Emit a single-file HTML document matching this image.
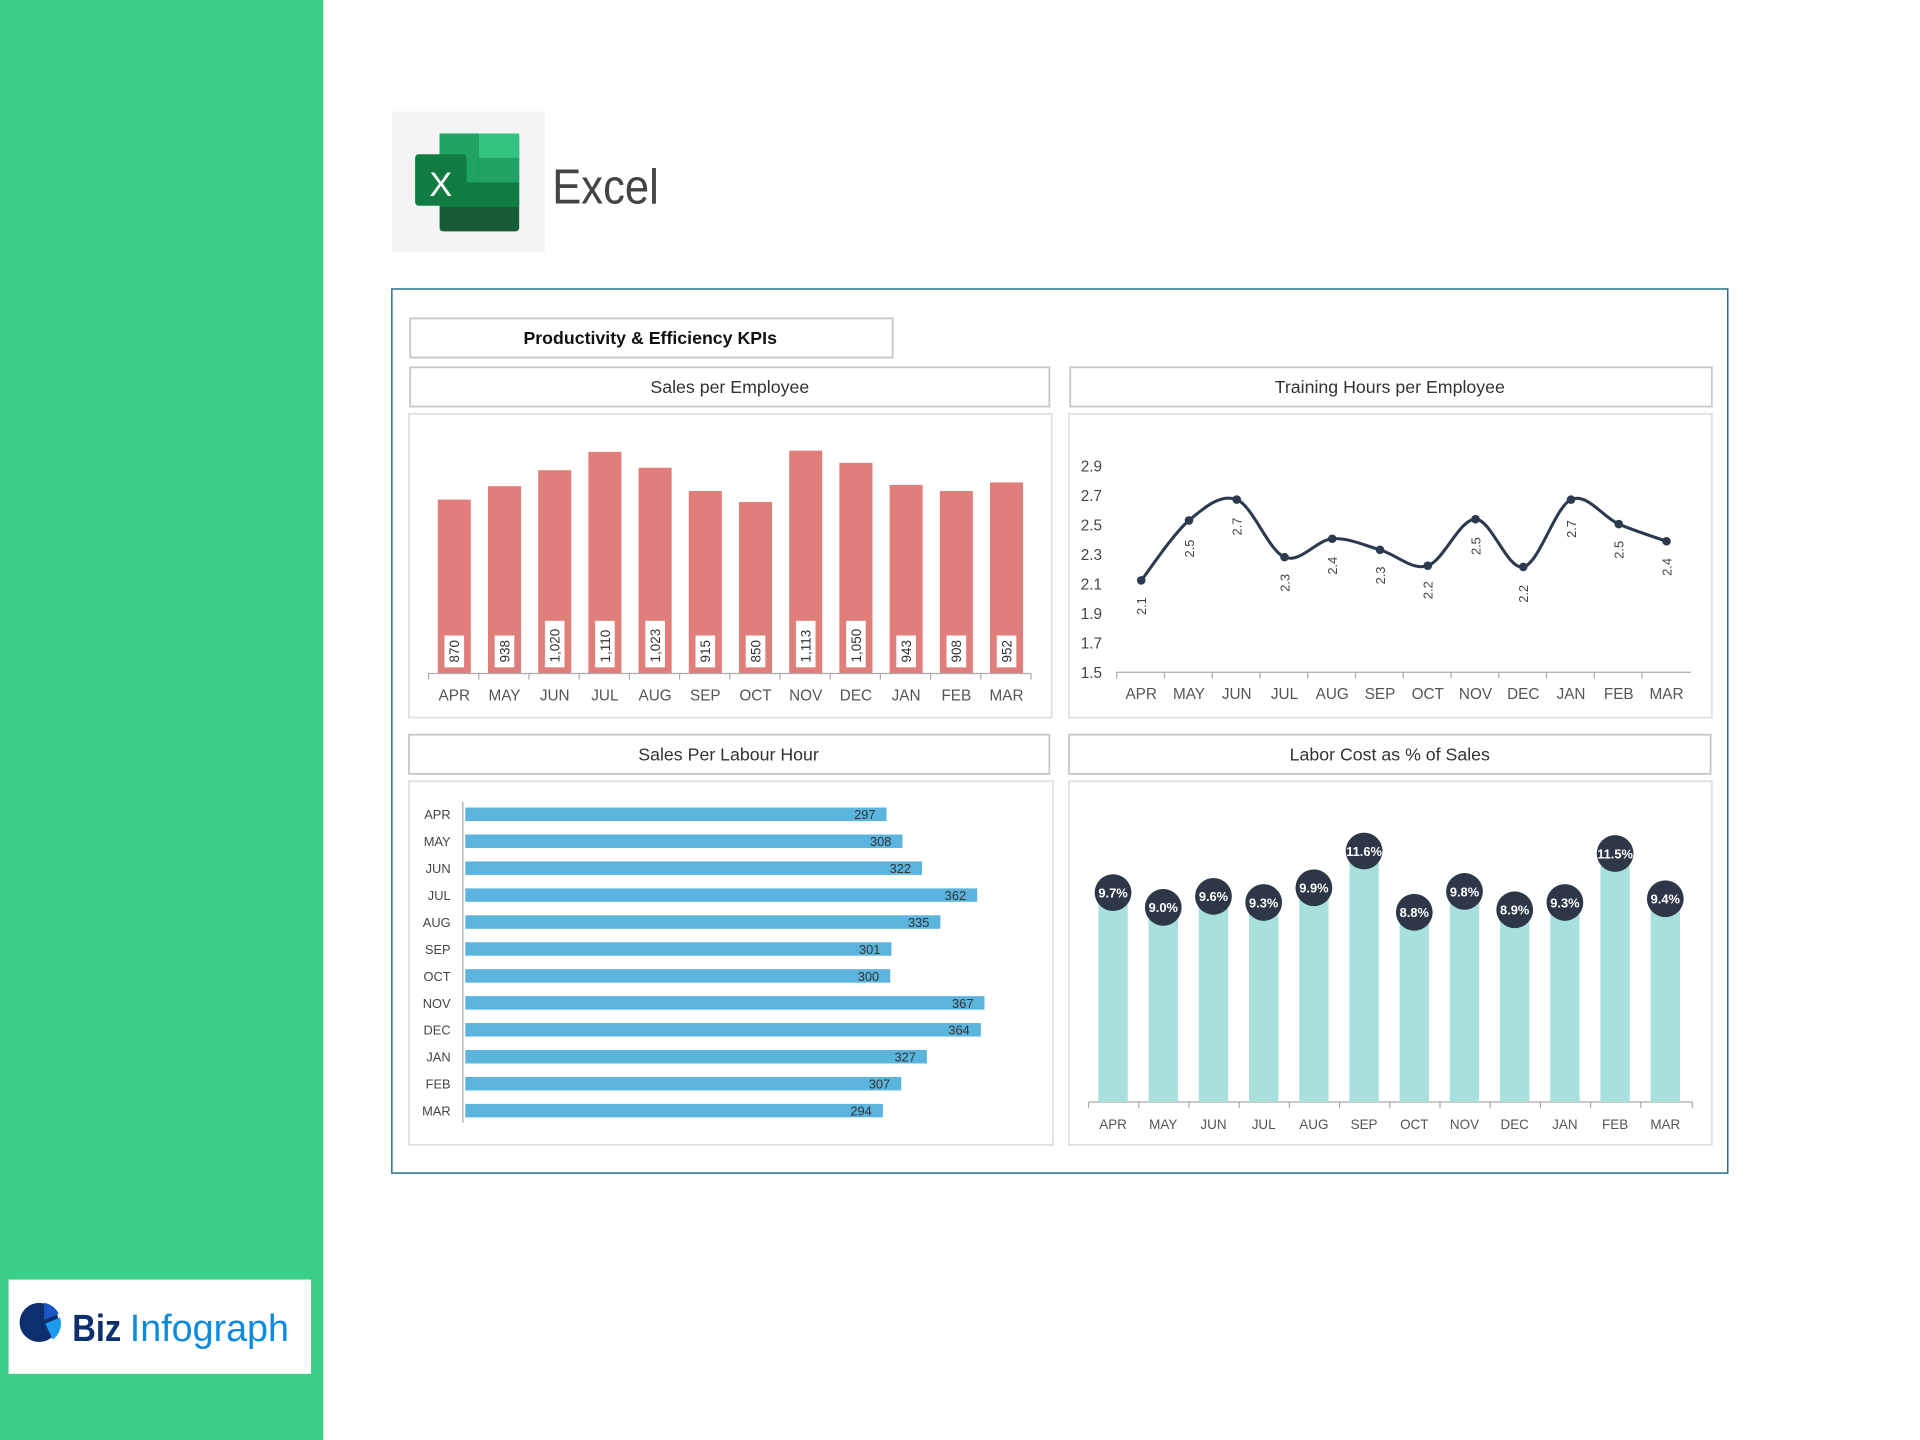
<!DOCTYPE html>
<html><head><meta charset="utf-8"><style>
html,body{margin:0;padding:0;background:#fff;}
svg{display:block;}
text{font-family:"Liberation Sans",sans-serif;}
</style></head><body>
<svg width="1920" height="1440" viewBox="0 0 1568 1176" xmlns="http://www.w3.org/2000/svg">
<rect x="0" y="0" width="1568" height="1176" fill="#fff"/>
<rect x="0" y="0" width="264" height="1176" fill="#3ccf8a"/>
<rect x="7" y="1045" width="247" height="77" fill="#fff"/>
<circle cx="32" cy="1080" r="16" fill="#0d2f6e"/>
<path d="M36,1064 L36,1078 L48,1073 A16,16 0 0 0 36,1064Z" fill="#1a56c4"/>
<path d="M37,1081 L49,1076 A16,16 0 0 1 43,1094Z" fill="#1a9bf0"/>
<text x="59" y="1095" font-size="31" font-weight="bold" fill="#0d2f6e" textLength="40" lengthAdjust="spacingAndGlyphs">Biz</text>
<text x="106" y="1095" font-size="31" fill="#0d8ae0" textLength="130" lengthAdjust="spacingAndGlyphs">Infograph</text>
<rect x="320" y="91" width="125" height="115" fill="#f4f4f4"/>
<rect x="359" y="109" width="65" height="80" rx="3" fill="#185c37"/>
<rect x="391" y="109" width="33" height="20" fill="#33c481"/>
<rect x="391" y="129" width="33" height="20" fill="#21a366"/>
<rect x="359" y="109" width="32" height="40" fill="#21a366"/>
<rect x="359" y="149" width="65" height="20" fill="#107c41"/>
<rect x="339" y="126" width="42" height="42" rx="3" fill="#107c41"/>
<text x="360" y="160" font-size="28" fill="#fff" text-anchor="middle">X</text>
<text x="451" y="166" font-size="40" fill="#444" textLength="87" lengthAdjust="spacingAndGlyphs">Excel</text>
<rect x="320" y="236" width="1091" height="722" fill="#fff" stroke="#1f6f8b" stroke-width="1.2"/>
<g fill="#fff" stroke="#c8c8c8" stroke-width="1.5">
<rect x="335" y="260" width="394" height="32"/>
<rect x="335" y="300" width="522" height="32"/>
<rect x="874" y="300" width="524" height="32"/>
<rect x="334" y="600" width="523" height="32"/>
<rect x="873" y="600" width="524" height="32"/>
<rect x="334" y="338" width="525" height="248" stroke="#e0e0e0"/>
<rect x="873" y="338" width="525" height="248" stroke="#e0e0e0"/>
<rect x="334" y="638" width="526" height="297" stroke="#e0e0e0"/>
<rect x="873" y="638" width="525" height="297" stroke="#e0e0e0"/>
</g>
<g text-anchor="middle" font-size="14.5" fill="#333">
<text x="531" y="281" font-weight="bold" fill="#111">Productivity &amp; Efficiency KPIs</text>
<text x="596" y="321">Sales per Employee</text>
<text x="1135" y="321">Training Hours per Employee</text>
<text x="595" y="621">Sales Per Labour Hour</text>
<text x="1135" y="621">Labor Cost as % of Sales</text>
</g>
<g id="c1"></g>
<line x1="350" y1="550" x2="842" y2="550" stroke="#aaa"/>
<line x1="912" y1="549" x2="1381" y2="549" stroke="#aaa"/>
<g id="c2"></g>
<g id="c3"></g>
<line x1="378" y1="655" x2="378" y2="917" stroke="#aaa"/>
<line x1="889" y1="900" x2="1382" y2="900" stroke="#aaa"/>
<g id="c4"></g>
<script>
var NS="http://www.w3.org/2000/svg";
function el(p,t,a,txt){var e=document.createElementNS(NS,t);for(var k in a)e.setAttribute(k,a[k]);if(txt!==undefined)e.textContent=txt;p.appendChild(e);return e;}
var M=["APR","MAY","JUN","JUL","AUG","SEP","OCT","NOV","DEC","JAN","FEB","MAR"];
var g=document.getElementById("c1");
var tops=[408,397,384,369,382,401,410,368,378,396,401,394];
var v1=["870","938","1,020","1,110","1,023","915","850","1,113","1,050","943","908","952"];
for(var i=0;i<12;i++){var cx=371+i*41;
el(g,"rect",{x:cx-13.5,y:tops[i],width:27,height:550-tops[i],fill:"#e07e7b"});
var w=v1[i].length*6+8;
el(g,"rect",{x:cx-8,y:545-w,width:16,height:w,fill:"#fff"});
el(g,"text",{transform:"translate("+(cx+4)+",541) rotate(-90)","font-size":"11",fill:"#333","text-anchor":"start"},v1[i]);
el(g,"line",{x1:350+i*41,y1:550,x2:350+i*41,y2:555,stroke:"#aaa"});
el(g,"text",{x:cx,y:572,"font-size":"12.5",fill:"#555","text-anchor":"middle"},M[i]);}
el(g,"line",{x1:842,y1:550,x2:842,y2:555,stroke:"#aaa"});
g=document.getElementById("c2");
var yl=["2.9","2.7","2.5","2.3","2.1","1.9","1.7","1.5"];
for(var i=0;i<8;i++)el(g,"text",{x:900,y:385+i*24.1,"font-size":"12.5",fill:"#444","text-anchor":"end"},yl[i]);
var ys=[474,425,408,455,440,449,462,424,463,408,428,442];
var vs=["2.1","2.5","2.7","2.3","2.4","2.3","2.2","2.5","2.2","2.7","2.5","2.4"];
var ly=[495,448,430,476,462,470,482,446,485,432,449,463];
var P=[];for(var i=0;i<12;i++)P.push([932+i*39,ys[i]]);
var d="M"+P[0][0]+","+P[0][1];
for(var i=0;i<11;i++){var p0=P[Math.max(0,i-1)],p1=P[i],p2=P[i+1],p3=P[Math.min(11,i+2)];
d+=" C"+(p1[0]+(p2[0]-p0[0])/6)+","+(p1[1]+(p2[1]-p0[1])/6)+" "+(p2[0]-(p3[0]-p1[0])/6)+","+(p2[1]-(p3[1]-p1[1])/6)+" "+p2[0]+","+p2[1];}
el(g,"path",{d:d,fill:"none",stroke:"#2b3a4e","stroke-width":"2.5"});
for(var i=0;i<12;i++){el(g,"circle",{cx:P[i][0],cy:P[i][1],r:3.5,fill:"#2b3a4e"});
el(g,"text",{transform:"translate("+(P[i][0]+4)+","+ly[i]+") rotate(-90)","font-size":"10.5",fill:"#444","text-anchor":"middle"},vs[i]);
el(g,"line",{x1:912+i*39,y1:549,x2:912+i*39,y2:554,stroke:"#aaa"});
el(g,"text",{x:P[i][0],y:571,"font-size":"12.5",fill:"#555","text-anchor":"middle"},M[i]);}
g=document.getElementById("c3");
var v3=[297,308,322,362,335,301,300,367,364,327,307,294];
var e3=[724,737,753,798,768,728,727,804,801,757,736,721];
for(var i=0;i<12;i++){var y=665+i*22;
el(g,"text",{x:368,y:y+4,"font-size":"10.5",fill:"#444","text-anchor":"end"},M[i]);
el(g,"rect",{x:380,y:y-5.5,width:e3[i]-380,height:11,fill:"#5ab4de"});
el(g,"text",{x:e3[i]-9,y:y+4,"font-size":"10.5",fill:"#333","text-anchor":"end"},v3[i]);}
g=document.getElementById("c4");
var cy4=[729,741,732,737,725,695,745,728,743,737,697,734];
var v4=["9.7%","9.0%","9.6%","9.3%","9.9%","11.6%","8.8%","9.8%","8.9%","9.3%","11.5%","9.4%"];
for(var i=0;i<12;i++){var cx=909+i*41;
el(g,"rect",{x:cx-12,y:cy4[i],width:24,height:900-cy4[i],fill:"#a8e0dc"});
el(g,"circle",{cx:cx,cy:cy4[i],r:15,fill:"#2d3748"});
el(g,"text",{x:cx,y:cy4[i]+4,"font-size":"10.5",fill:"#fff","text-anchor":"middle","font-weight":"bold"},v4[i]);
el(g,"line",{x1:889+i*41,y1:900,x2:889+i*41,y2:905,stroke:"#aaa"});
el(g,"text",{x:cx,y:922,"font-size":"11",fill:"#555","text-anchor":"middle"},M[i]);}
el(g,"line",{x1:1382,y1:900,x2:1382,y2:905,stroke:"#aaa"});
</script>
</svg>
</body></html>
